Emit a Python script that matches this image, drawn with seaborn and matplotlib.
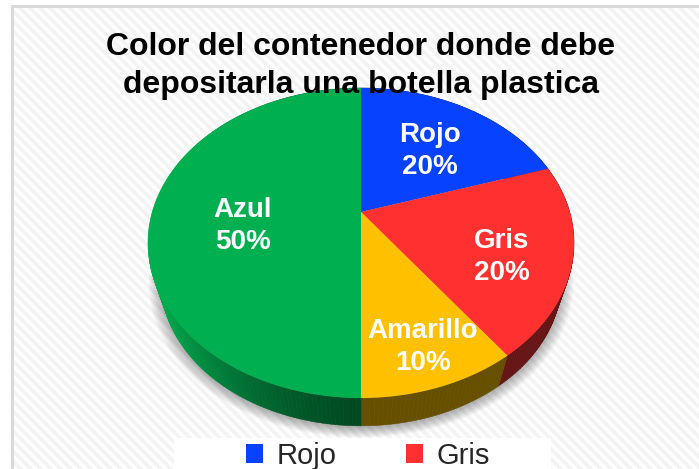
"""Pie chart with a perspective 3D look, drawn on a pixel-sized axes."""
import numpy as np
import matplotlib
matplotlib.use("Agg")
import matplotlib.pyplot as plt
import seaborn as sns
from matplotlib.patches import Polygon, Patch, Rectangle

sns.set_theme(style="white")
plt.rcParams["font.family"] = ["Liberation Sans", "DejaVu Sans"]

# data
categories = ["Rojo", "Gris", "Amarillo", "Azul"]
values = [20, 20, 10, 50]
title_lines = ["Color del contenedor donde debe", "depositarla una botella plastica"]

top_colors = ["#0642FF", "#FF3030", "#FFC000", "#00B050"]
side_colors = ["#02207F", "#661414", "#665000", "#004A22"]
label_pos = [(430, 151), (502, 257), (423, 347), (243, 226)]

W, H = 699, 469
APEX = (361, 212)
RX, RY, TILT = 208.7, 148.8, 0.2
SIDE_SCALE, SIDE_DROP = 0.94, 39


def project(theta_deg, r=1.0):
    """Map a point of the flat pie on to the tilted top face, in pixels."""
    t = np.radians(theta_deg)
    u, v = r * np.cos(t), r * np.sin(t)
    w = 1 + TILT * v
    return APEX[0] + RX * u / w, APEX[1] - RY * v / w


def lower(x, y):
    return (APEX[0] + (x - APEX[0]) * SIDE_SCALE,
            APEX[1] + (y - APEX[1]) * SIDE_SCALE + SIDE_DROP)


fig = plt.figure(figsize=(W / 100, H / 100), dpi=100, facecolor="white")
ax = fig.add_axes([0, 0, 1, 1])

# the pie call gives the wedge angles, the wedges are then redrawn in perspective
wedges, _ = ax.pie(values, startangle=90, counterclock=False, colors=top_colors)
angles = [(w.theta1, w.theta2) for w in wedges]
for w in wedges:
    w.remove()
ax.set_aspect("auto")
ax.set_xlim(0, W)
ax.set_ylim(H, 0)
ax.axis("off")

# background texture and frame
yy, xx = np.mgrid[0:H, 0:W]
tex = np.where((xx - yy) % 10 < 5, 0.955, 0.99)
tex[:, :11] = 1.0
tex[:5, :] = 1.0
tex[5:8, 11:] = 0.85
tex[5:, 11:14] = 0.85
ax.imshow(tex, cmap="gray", vmin=0, vmax=1, extent=(0, W, H, 0), aspect="auto",
          interpolation="nearest", zorder=0)

# soft shadow under the pie
ring = np.linspace(0, 360, 240)
rim = np.array([project(a) for a in ring])
low = np.array([lower(x, y) for x, y in rim])
for grow in np.linspace(12, 0, 10):
    ax.add_patch(Polygon(low + [0, 2] + (low - low.mean(axis=0)) * grow / 200,
                         closed=True, fc="black", ec="none", alpha=0.03, zorder=1))

# side wall, strip by strip so the shade can change along the rim
for (t1, t2), col in zip(angles, side_colors):
    steps = np.linspace(t1, t2, int(abs(t2 - t1)) + 2)
    base = np.array(matplotlib.colors.to_rgb(col))
    for a, b in zip(steps[:-1], steps[1:]):
        p1, p2 = project(a), project(b)
        mid = np.radians((a + b) / 2)
        # lighter towards the far left of the wall
        shade = 1 + 1.6 * max(0, -np.cos(mid)) ** 1.5
        ax.add_patch(Polygon([p1, p2, lower(*p2), lower(*p1)], closed=True,
                             fc=np.clip(base * shade, 0, 1), ec=np.clip(base * shade, 0, 1),
                             lw=0.4, zorder=2))

# top face
for (t1, t2), col in zip(angles, top_colors):
    steps = np.linspace(t1, t2, 120)
    pts = [APEX] + [project(a) for a in steps]
    ax.add_patch(Polygon(pts, closed=True, fc=col, ec="none", zorder=3))

# data labels
for name, val, (x, y) in zip(categories, values, label_pos):
    ax.text(x, y, f"{name}\n{val}%", color="white", fontsize=20, fontweight="bold",
            ha="center", va="center", linespacing=1.3, zorder=5)

# title
ax.text(361, 47, title_lines[0], fontsize=23, fontweight="bold", color="black",
        ha="center", va="center", zorder=6)
ax.text(361, 85, title_lines[1], fontsize=23, fontweight="bold", color="black",
        ha="center", va="center", zorder=6)

# legend, the second row falls off the bottom of the picture like the original
ax.add_patch(Rectangle((174, 438), 377, 31, fc="white", ec="none", zorder=6))
order = [0, 2, 1, 3]
handles = [Patch(fc=top_colors[i], ec="none", label=categories[i]) for i in order]
leg = ax.legend(handles=handles, ncol=2, loc="upper left",
                bbox_to_anchor=(246 / W, 1 - 442 / H), bbox_transform=ax.transAxes,
                fontsize=21, frameon=False, borderaxespad=0, borderpad=0,
                handlelength=0.58, handleheight=0.6,
                handletextpad=0.47, columnspacing=0.82)
leg.set_zorder(7)

fig.savefig("out.png", dpi=100)
